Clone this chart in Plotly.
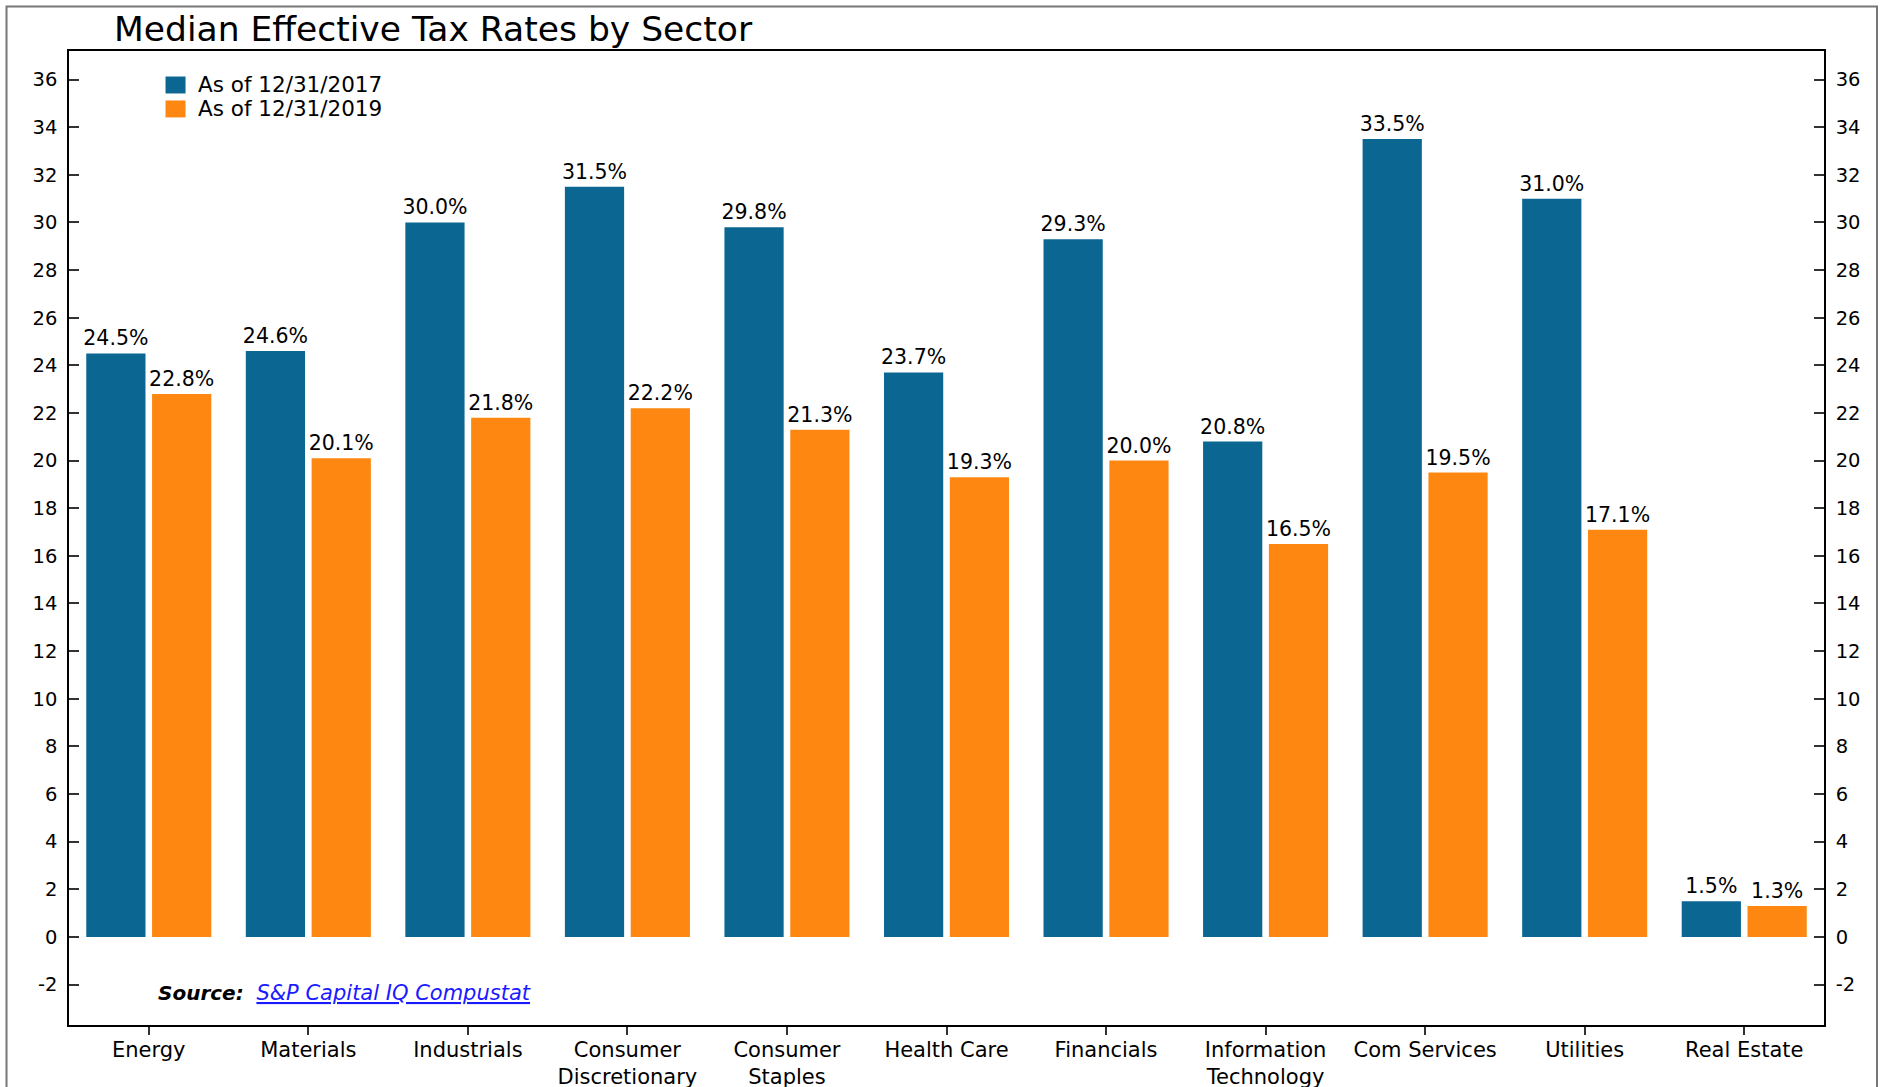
import plotly.graph_objects as go

# Sector categories (tick labels) and median effective tax rates (%)
sectors = [
    "Energy", "Materials", "Industrials", "Consumer<br>Discretionary",
    "Consumer<br>Staples", "Health Care", "Financials", "Information<br>Technology",
    "Com Services", "Utilities", "Real Estate",
]
rate_2017 = [24.5, 24.6, 30.0, 31.5, 29.8, 23.7, 29.3, 20.8, 33.5, 31.0, 1.5]
rate_2019 = [22.8, 20.1, 21.8, 22.2, 21.3, 19.3, 20.0, 16.5, 19.5, 17.1, 1.3]
series_names = ["As of 12/31/2017", "As of 12/31/2019"]
y_ticks = list(range(-2, 37, 2))
y_ticktext = [str(v) for v in y_ticks]  # plain hyphen for negatives

BLUE = "#0b6792"
ORANGE = "#fd8710"
FONT = "DejaVu Sans"

fig = go.Figure()
for name, vals, color in [(series_names[0], rate_2017, BLUE), (series_names[1], rate_2019, ORANGE)]:
    fig.add_trace(go.Bar(
        x=sectors, y=vals, name=name, marker=dict(color=color, line=dict(width=0)),
        texttemplate="%{y:.1f}%", textposition="outside", constraintext="none",
        textfont=dict(family=FONT, size=20.5, color="black"), cliponaxis=False,
        showlegend=False,
    ))

# invisible trace so the mirrored right-hand axis is drawn
fig.add_trace(go.Scatter(x=sectors, y=rate_2017, yaxis="y2", mode="none",
                         showlegend=False, hoverinfo="skip"))

yrange = [-3.7, 37.2]
axis_common = dict(
    range=yrange, tickvals=y_ticks, ticktext=y_ticktext, ticks="inside", ticklen=10,
    tickwidth=1.5, tickcolor="#333", showline=True, linecolor="black", linewidth=1.5,
    showgrid=False, zeroline=False, automargin=False,
    tickfont=dict(family=FONT, size=19.5, color="black"),
)

fig.update_layout(
    width=1885, height=1087,
    margin=dict(l=68.5, r=61, t=50.5, b=61.5),
    paper_bgcolor="white", plot_bgcolor="white",
    barmode="group", bargap=0.175, bargroupgap=0.1,
    title=dict(text="Median Effective Tax Rates by Sector", x=0.0605, xanchor="left",
               y=0.973, yanchor="middle", font=dict(family=FONT, size=34.5, color="black")),
    xaxis=dict(showline=True, linecolor="black", linewidth=1.5, mirror=True,
               ticks="outside", ticklen=8, tickwidth=1.5, tickcolor="#333",
               showgrid=False, range=[-0.5, 10.5], automargin=False,
               ticklabelstandoff=-3,
               tickfont=dict(family=FONT, size=21, color="black")),
    yaxis=dict(side="left", ticklabelstandoff=6, **axis_common),
    yaxis2=dict(side="right", overlaying="y", ticklabelstandoff=6, **axis_common),
)

# legend swatches and labels
legend_rows = [(series_names[0], BLUE, 0.9738), (series_names[1], ORANGE, 0.9492)]
for name, color, ytop in legend_rows:
    fig.add_shape(type="rect", xref="paper", yref="paper", x0=0.055, x1=0.0664,
                  y0=ytop - 0.0174, y1=ytop, fillcolor=color, line=dict(width=0))
    fig.add_annotation(text=name, xref="paper", yref="paper", x=0.0726, y=ytop - 0.0087,
                       xanchor="left", yanchor="middle", showarrow=False,
                       font=dict(family=FONT, size=21.5, color="black"))

# source note
fig.add_annotation(
    text="<b><i>Source:</i></b>  <a href='https://www.spglobal.com'><span style='color:#1a1aff;font-size:21px'><u><i>S&P Capital IQ Compustat</i></u></span></a>",
    xref="paper", yref="paper", x=0.0498, y=0.0333, xanchor="left", yanchor="middle",
    showarrow=False, font=dict(family=FONT, size=20, color="black"),
)

# outer frame
fig.add_shape(type="rect", xref="paper", yref="paper", x0=-0.0356, x1=1.0302,
              y0=-0.2, y1=1.0456, line=dict(color="#777", width=2), layer="below")

fig.write_html("out.html")
